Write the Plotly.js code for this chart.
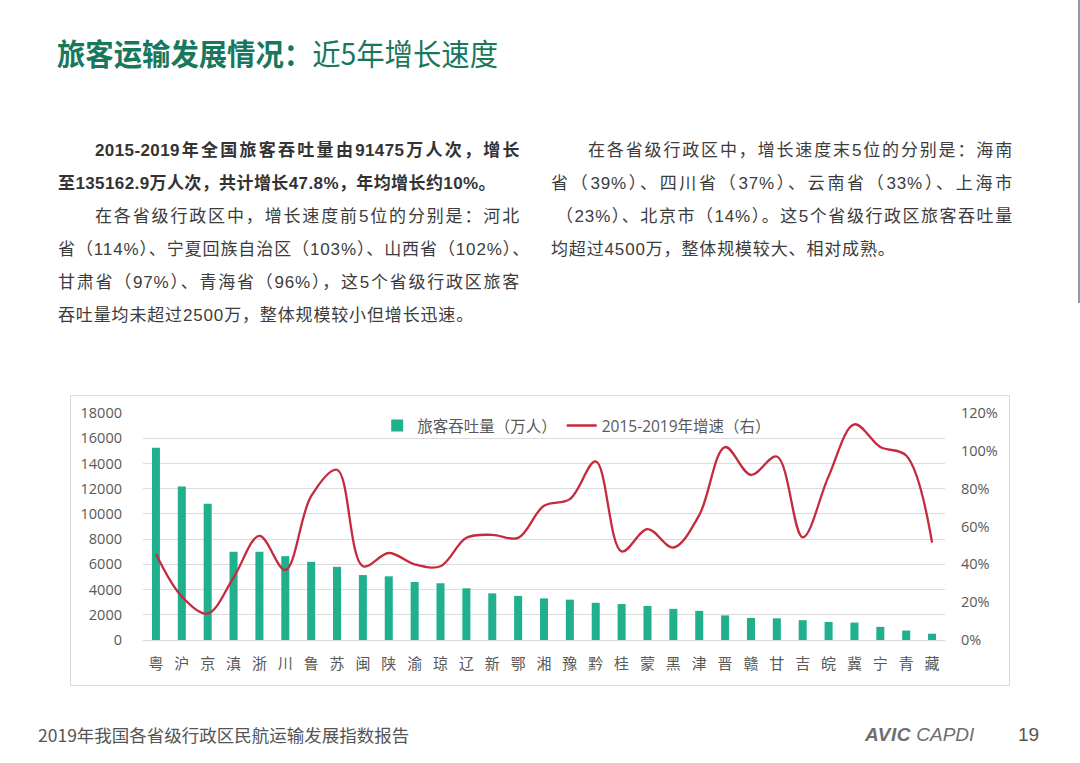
<!DOCTYPE html>
<html><head><meta charset="utf-8">
<script src="https://cdn.plot.ly/plotly-3.0.1.min.js"></script>
<style>
body{margin:0;width:1080px;height:763px;position:relative;background:#fff;overflow:hidden;font-family:"Liberation Sans","Noto Sans CJK SC",sans-serif;}
.t{position:absolute;white-space:nowrap;}
.p{position:absolute;font-size:17px;line-height:33px;height:33px;color:#3c3c3c;white-space:nowrap;letter-spacing:0.85px;}
.j{text-align:justify;text-align-last:justify;white-space:normal;overflow:visible;}
#chart{position:absolute;left:70px;top:395px;width:940px;height:291px;box-sizing:border-box;border:1px solid #d9d9d9;}
#edge{position:absolute;left:1078px;top:0;width:1.5px;height:303px;background:#8d9bab;}
</style></head><body>
<div id="edge"></div>
<div class="t" style="left:57px;top:35px;font-size:30px;line-height:34px;color:#17785c;font-family:'Noto Sans CJK SC';transform:scaleX(0.945);transform-origin:left center;"><b>旅客运输发展情况：</b>近5年增长速度</div>

<div class="p j" style="left:95px;top:134px;width:425px;font-weight:bold;color:#333;letter-spacing:0.4px;">2015-2019年全国旅客吞吐量由91475万人次，增长</div>
<div class="p" style="left:58px;top:167px;font-weight:bold;color:#333;letter-spacing:0.4px;">至135162.9万人次，共计增长47.8%，年均增长约10%。</div>
<div class="p j" style="left:95px;top:200px;width:425px;">在各省级行政区中，增长速度前5位的分别是：河北</div>
<div class="p j" style="left:58px;top:233px;width:472px;">省（114%）、宁夏回族自治区（103%）、山西省（102%）、</div>
<div class="p j" style="left:58px;top:266px;width:462px;">甘肃省（97%）、青海省（96%），这5个省级行政区旅客</div>
<div class="p" style="left:58px;top:299px;">吞吐量均未超过2500万，整体规模较小但增长迅速。</div>

<div class="p j" style="left:588px;top:134px;width:425px;">在各省级行政区中，增长速度末5位的分别是：海南</div>
<div class="p j" style="left:551px;top:167px;width:462px;">省（39%）、四川省（37%）、云南省（33%）、上海市</div>
<div class="p j" style="left:556px;top:200px;width:457px;">（23%）、北京市（14%）。这5个省级行政区旅客吞吐量</div>
<div class="p" style="left:551px;top:233px;">均超过4500万，整体规模较大、相对成熟。</div>

<div id="chart"></div>

<div class="t" style="left:38px;top:723px;font-size:17.5px;line-height:24px;color:#555;font-family:'Noto Sans CJK SC';">2019年我国各省级行政区民航运输发展指数报告</div>
<div class="t" style="left:865px;top:723px;font-size:19px;line-height:24px;color:#6e6e6e;font-style:italic;"><b style="font-weight:900;letter-spacing:0.5px;">AVIC</b> CAPDI</div>
<div class="t" style="left:1018px;top:723px;font-size:19px;line-height:24px;color:#555;">19</div>

<script>
const provinces = ["粤","沪","京","滇","浙","川","鲁","苏","闽","陕","渝","琼","辽","新","鄂","湘","豫","黔","桂","蒙","黑","津","晋","赣","甘","吉","皖","冀","宁","青","藏"];
const throughput = [15250,12180,10800,7000,7000,6650,6200,5800,5150,5050,4600,4500,4100,3700,3500,3300,3200,2950,2850,2700,2470,2310,1950,1750,1720,1570,1430,1380,1040,750,500];
const growth = [0.455,0.23,0.14,0.33,0.55,0.37,0.76,0.90,0.39,0.46,0.40,0.39,0.54,0.556,0.54,0.71,0.745,0.944,0.468,0.586,0.489,0.66,1.02,0.873,0.97,0.543,0.865,1.14,1.02,0.975,0.515];
const legendNames = ["旅客吞吐量（万人）","2015-2019年增速（右）"];
const leftTicks = [0,2000,4000,6000,8000,10000,12000,14000,16000,18000];
const rightTicks = [0,0.2,0.4,0.6,0.8,1.0,1.2];

const FONT = "Open Sans, Noto Sans CJK SC, sans-serif";
const data = [
  {type:"bar", x:provinces, y:throughput, name:legendNames[0], marker:{color:"#20b08e"}, yaxis:"y"},
  {type:"scatter", mode:"lines", x:provinces, y:growth, name:legendNames[1], yaxis:"y2",
   line:{shape:"spline", smoothing:1, color:"#c62a3d", width:2.3}}
];
const layout = {
  width:938, height:289,
  margin:{l:72, r:64, t:17, b:45},
  paper_bgcolor:"rgba(0,0,0,0)", plot_bgcolor:"rgba(0,0,0,0)",
  font:{family:FONT, color:"#595959", size:14},
  bargap:0.69,
  showlegend:true,
  legend:{orientation:"h", x:0.292, y:0.943, xanchor:"left", yanchor:"middle", font:{size:15.5, color:"#595959"}, bgcolor:"rgba(0,0,0,0)", itemwidth:30, traceorder:"normal"},
  xaxis:{type:"category", tickfont:{size:15, color:"#595959"}, showline:true, linecolor:"#d9d9d9", linewidth:1, ticks:"", showgrid:false, ticklabelstandoff:10, fixedrange:true},
  yaxis:{range:[0,18000], tickvals:leftTicks, ticktext:leftTicks.map(String), gridcolor:"#dcdcdc", gridwidth:1, zeroline:false, ticks:"", ticklabelstandoff:20, tickfont:{size:14.5, color:"#595959"}, fixedrange:true},
  yaxis2:{range:[0,1.2], tickvals:rightTicks, ticktext:rightTicks.map(v=>Math.round(v*100)+"%"), overlaying:"y", side:"right", showgrid:false, zeroline:false, ticks:"", ticklabelstandoff:15, tickfont:{size:14.5, color:"#595959"}, fixedrange:true}
};
Plotly.newPlot("chart", data, layout, {displayModeBar:false, staticPlot:true});
</script>
</body></html>
